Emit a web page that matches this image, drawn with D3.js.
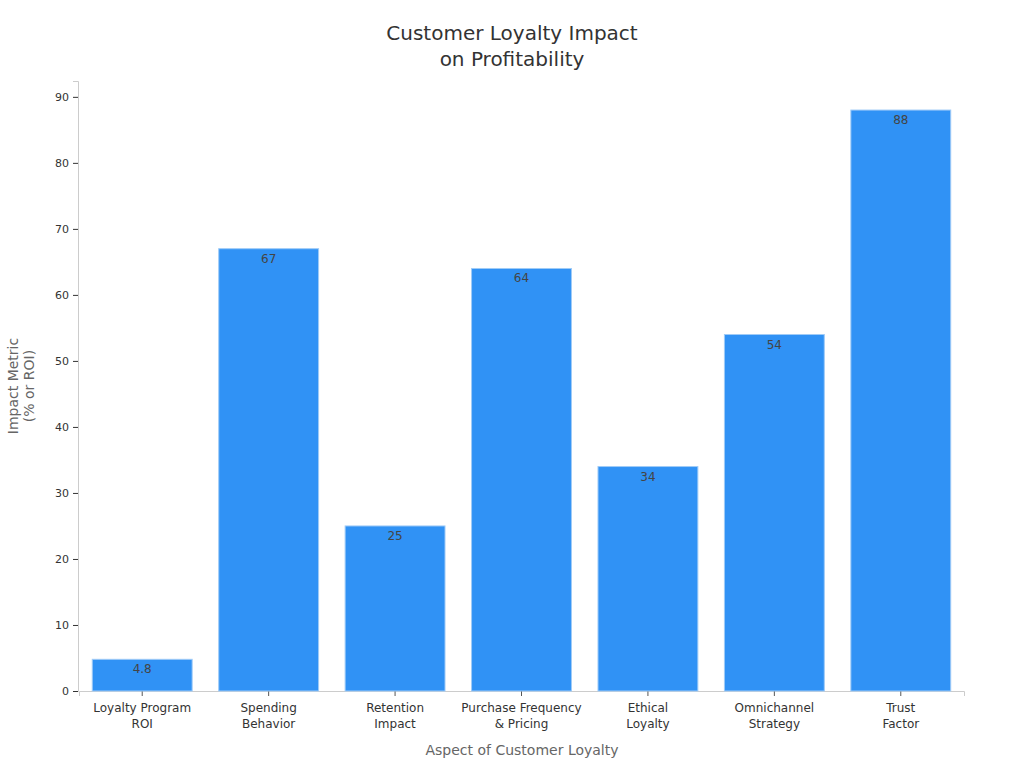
<!DOCTYPE html>
<html><head><meta charset="utf-8">
<script src="https://cdn.jsdelivr.net/npm/d3@7"></script>
<style>body{margin:0;background:#fff}svg{display:block}text{font-family:"DejaVu Sans",sans-serif}</style>
</head><body><svg id="c" width="1024" height="768"></svg>
<script>
const categories = [["Loyalty Program","ROI"],["Spending","Behavior"],["Retention","Impact"],["Purchase Frequency","& Pricing"],["Ethical","Loyalty"],["Omnichannel","Strategy"],["Trust","Factor"]];
const values = [4.8, 67, 25, 64, 34, 54, 88];
const labels = ["4.8","67","25","64","34","54","88"];
const yTicks = [0,10,20,30,40,50,60,70,80,90];

const svg = d3.select("#c");
const m = {l:79, r:964, t:81, b:691};
const x = d3.scaleBand().domain(categories.map((d,i)=>i)).range([m.l, m.r]).paddingInner(0.21).paddingOuter(0.105);
const y = d3.scaleLinear().domain([0, 92.4]).range([m.b, m.t]);

svg.append("text").attr("x",512).attr("y",40).attr("text-anchor","middle").attr("font-size",20).attr("fill","#333").text("Customer Loyalty Impact");
svg.append("text").attr("x",512).attr("y",66).attr("text-anchor","middle").attr("font-size",20).attr("fill","#333").text("on Profitability");

const yAx = svg.append("g").attr("transform",`translate(${m.l-1},0)`).call(d3.axisLeft(y).tickValues(yTicks).tickSize(5).tickPadding(4));
yAx.select(".domain").attr("stroke","#ccc");
yAx.selectAll(".tick line").attr("stroke","#333");
yAx.selectAll(".tick text").attr("font-size",11).attr("fill","#333").style("font-family","DejaVu Sans");

const xAx = svg.append("g").attr("transform",`translate(0,${m.b})`).call(d3.axisBottom(x).tickSize(5).tickFormat(""));
xAx.select(".domain").attr("stroke","#ccc");
xAx.selectAll(".tick line").attr("stroke","#555");
xAx.selectAll(".tick").each(function(d){
  const t = d3.select(this).append("text").attr("fill","#333").attr("font-size",12).attr("text-anchor","middle");
  categories[d].forEach((s,k)=>t.append("tspan").attr("x",0).attr("y",21+k*16).text(s));
});

svg.selectAll("rect.bar").data(values).join("rect").attr("class","bar")
  .attr("x",(d,i)=>x(i)).attr("width",x.bandwidth())
  .attr("y",d=>y(d)).attr("height",d=>y(0)-y(d))
  .attr("fill","#3092F5").attr("stroke","#9fcbf7").attr("stroke-width",1);

svg.selectAll("text.val").data(values).join("text").attr("class","val")
  .attr("x",(d,i)=>x(i)+x.bandwidth()/2).attr("y",d=>y(d)+14)
  .attr("text-anchor","middle").attr("font-size",12).attr("fill","#444").text((d,i)=>labels[i]);

svg.append("text").attr("x",522).attr("y",755).attr("text-anchor","middle").attr("font-size",14).attr("fill","#666").text("Aspect of Customer Loyalty");
const yl = svg.append("text").attr("transform","translate(18,386) rotate(-90)").attr("text-anchor","middle").attr("font-size",14).attr("fill","#666");
yl.append("tspan").attr("x",0).attr("y",0).text("Impact Metric");
yl.append("tspan").attr("x",0).attr("y",16).text("(% or ROI)");
</script></body></html>
